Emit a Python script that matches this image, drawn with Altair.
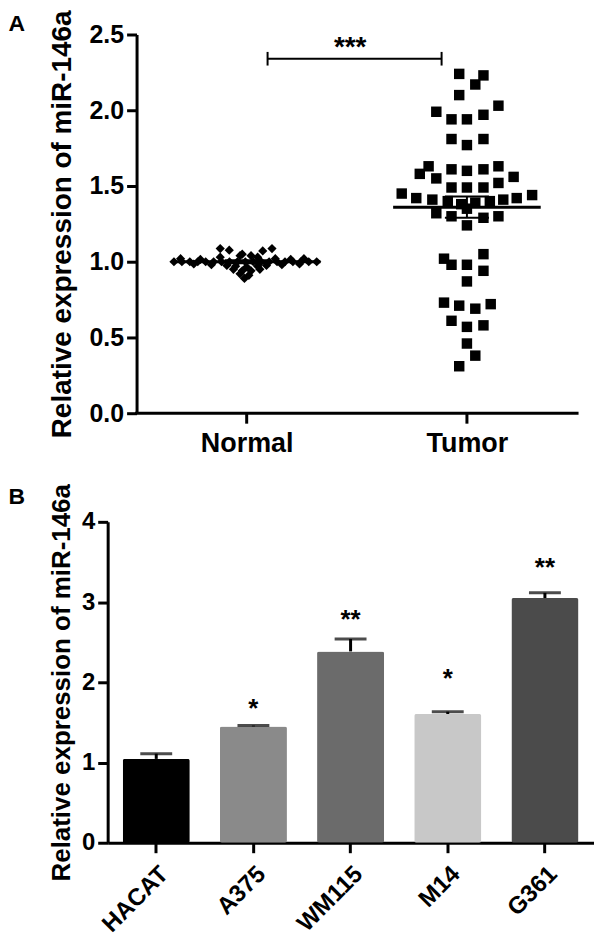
import altair as alt
import pandas as pd

# ---------------- Panel A data ----------------
groups = ["Normal", "Tumor"]

normal_values = [1.00, 1.00, 1.00, 1.00, 1.00, 1.00, 1.00, 1.00, 1.00, 1.00,
                 1.00, 1.00, 1.00, 1.00, 1.00, 1.00, 1.00, 1.00, 1.00,
                 1.02, 1.015, 1.03, 1.04, 1.03, 1.02, 1.015, 1.02,
                 0.985, 0.98, 0.975, 0.97, 0.965, 0.97, 0.975, 0.98, 0.985,
                 0.95, 0.94, 0.94, 0.95, 0.92, 0.91, 0.89,
                 1.087, 1.076, 1.071, 1.087, 1.05, 1.04]
normal_offsets = [-0.33, -0.294, -0.258, -0.222, -0.186, -0.15, -0.114, -0.078, -0.042, -0.006,
                  0.03, 0.066, 0.102, 0.138, 0.174, 0.21, 0.246, 0.282, 0.318,
                  -0.30, -0.21, -0.12, -0.03, 0.05, 0.13, 0.20, 0.26,
                  -0.24, -0.16, -0.09, -0.05, 0.0, 0.05, 0.09, 0.16, 0.24,
                  -0.06, -0.02, 0.02, 0.06, -0.03, 0.01, -0.01,
                  -0.12, -0.079, 0.073, 0.115, -0.02, 0.02]

tumor_values = [2.24, 2.23, 2.17, 2.10, 2.03, 1.99, 1.97, 1.94, 1.94, 1.81,
                1.81, 1.77, 1.63, 1.63, 1.61, 1.60, 1.61, 1.58, 1.55, 1.56,
                1.52, 1.49, 1.49, 1.49, 1.45, 1.44, 1.42, 1.42, 1.41, 1.40,
                1.38, 1.39, 1.40, 1.41, 1.32, 1.30, 1.35, 1.29, 1.30, 1.24,
                1.05, 1.02, 0.98, 0.98, 0.94, 0.87, 0.73, 0.71, 0.69, 0.72,
                0.61, 0.57, 0.58, 0.46, 0.38, 0.31]
tumor_offsets = [-0.035, 0.075, 0.038, -0.035, 0.143, -0.139, 0.075, -0.070, 0.0, -0.070,
                 0.075, 0.0, -0.174, 0.143, -0.070, 0.0, 0.075, -0.214, -0.139, 0.212,
                 0.143, -0.070, 0.0, 0.075, -0.296, 0.296, -0.230, 0.226, -0.157, -0.087,
                 -0.026, 0.038, 0.104, 0.165, -0.139, -0.070, 0.0, 0.075, 0.143, 0.0,
                 0.075, -0.104, -0.070, 0.0, 0.075, 0.0, -0.104, -0.035, 0.038, 0.108,
                 -0.070, 0.0, 0.075, 0.0, 0.038, -0.035]

group_means = [1.00, 1.36]
group_sems = [0.01, 0.07]
mean_half_width = 0.335
sem_half_width = 0.10

sig_a = "***"
bracket_level = 2.34
bracket_ends = [0.095, 0.885]
bracket_tick_half = 0.045
sig_a_baseline = 2.36

x_range_a = [-0.5, 1.5]          # extent of the drawn x axis line
x_domain_a = [-0.631, 1.5]       # scale domain (plot shares its left edge with panel B)
y_domain_a = [0, 2.5]
y_ticks_a = [0, 0.5, 1.0, 1.5, 2.0, 2.5]

# ---------------- Panel B data ----------------
cells = ["HACAT", "A375", "WM115", "M14", "G361"]
cell_means = [1.045, 1.45, 2.385, 1.605, 3.05]
cell_upper = [1.11, 1.46, 2.54, 1.634, 3.115]
cell_colors = ["#000000", "#8a8a8a", "#6b6b6b", "#c8c8c8", "#4b4b4b"]
cell_stars = ["", "*", "**", "*", "**"]
cell_star_baseline = [0.0, 1.57, 2.68, 1.94, 3.32]
y_ticks_b = [0, 1, 2, 3, 4]

FONT = "Liberation Sans"
YTITLE = "Relative expression of miR-146a"

# ---------------- Panel A ----------------
df_n = pd.DataFrame({"x": [0 + o for o in normal_offsets], "value": normal_values})
df_t = pd.DataFrame({"x": [1 + o for o in tumor_offsets], "value": tumor_values})

xscale_a = alt.Scale(domain=x_domain_a, nice=False, zero=False)
yscale_a = alt.Scale(domain=y_domain_a, nice=False)

label_expr_a = f"datum.value == 0 ? '{groups[0]}' : '{groups[1]}'"
xaxis_a = alt.Axis(values=[0, 1], labelExpr=label_expr_a, title=None, domain=False,
                   labelFontSize=27, labelPadding=7, tickSize=10)
yaxis_a = alt.Axis(values=y_ticks_a, format=".1f", offset=-29,
                   title=YTITLE, labelFontSize=25, labelPadding=3, tickSize=10,
                   titleFontSize=28, titleX=-66, titleY=190,
                   titleBaseline="alphabetic", titleAngle=270)


def xa(f):
    return alt.X(f, scale=xscale_a, axis=xaxis_a, title=None)


def ya(f):
    return alt.Y(f, scale=yscale_a, axis=yaxis_a, title=YTITLE)


normal_pts = alt.Chart(df_n).mark_point(
    shape="diamond", filled=True, size=85, color="black", opacity=1
).encode(x=xa("x:Q"), y=ya("value:Q"))

tumor_pts = alt.Chart(df_t).mark_square(size=110, color="black", opacity=1).encode(
    x=xa("x:Q"), y=ya("value:Q")
)

df_base = pd.DataFrame({"x1": [x_range_a[0]], "x2": [x_range_a[1]], "y": [y_domain_a[0]]})
base_line = alt.Chart(df_base).mark_rule(color="black", strokeWidth=3, strokeCap="square").encode(
    x=xa("x1:Q"), x2="x2:Q", y=ya("y:Q")
)

df_mean = pd.DataFrame({
    "x1": [i - mean_half_width for i in range(len(groups))],
    "x2": [i + mean_half_width for i in range(len(groups))],
    "m": group_means,
})
mean_rule = alt.Chart(df_mean).mark_rule(color="black", strokeWidth=3).encode(
    x=xa("x1:Q"), x2="x2:Q", y=ya("m:Q")
)

df_sem = pd.DataFrame({
    "x": list(range(len(groups))),
    "x1": [i - sem_half_width for i in range(len(groups))],
    "x2": [i + sem_half_width for i in range(len(groups))],
    "lo": [m - s for m, s in zip(group_means, group_sems)],
    "hi": [m + s for m, s in zip(group_means, group_sems)],
})
sem_v = alt.Chart(df_sem).mark_rule(color="black", strokeWidth=2).encode(
    x=xa("x:Q"), y=ya("lo:Q"), y2="hi:Q"
)
sem_lo = alt.Chart(df_sem).mark_rule(color="black", strokeWidth=2).encode(
    x=xa("x1:Q"), x2="x2:Q", y=ya("lo:Q")
)
sem_hi = alt.Chart(df_sem).mark_rule(color="black", strokeWidth=2).encode(
    x=xa("x1:Q"), x2="x2:Q", y=ya("hi:Q")
)

df_br = pd.DataFrame({"x1": [bracket_ends[0]], "x2": [bracket_ends[1]], "y": [bracket_level]})
bracket_h = alt.Chart(df_br).mark_rule(color="black", strokeWidth=2).encode(
    x=xa("x1:Q"), x2="x2:Q", y=ya("y:Q")
)
df_bt = pd.DataFrame({
    "x": bracket_ends,
    "y1": [bracket_level - bracket_tick_half] * 2,
    "y2": [bracket_level + bracket_tick_half] * 2,
})
bracket_t = alt.Chart(df_bt).mark_rule(color="black", strokeWidth=2).encode(
    x=xa("x:Q"), y=ya("y1:Q"), y2="y2:Q"
)
df_sa = pd.DataFrame({"x": [(bracket_ends[0] + bracket_ends[1]) / 2 - 0.02],
                      "y": [sig_a_baseline], "t": [sig_a]})
sig_text_a = alt.Chart(df_sa).mark_text(
    font=FONT, fontSize=28, fontWeight="bold", baseline="alphabetic", color="black"
).encode(x=xa("x:Q"), y=ya("y:Q"), text="t:N")

panel_a = alt.layer(
    normal_pts, tumor_pts, base_line, mean_rule, sem_v, sem_lo, sem_hi,
    bracket_h, bracket_t, sig_text_a
).properties(
    width=471, height=380,
    title=alt.TitleParams("A", anchor="start", frame="group", dx=-99.5, dy=30,
                          fontSize=23, font=FONT, fontWeight="bold", color="black"),
)

# ---------------- Panel B ----------------
df_b = pd.DataFrame({
    "cell": cells, "mean": cell_means, "upper": cell_upper,
    "color": cell_colors, "star": cell_stars, "star_y": cell_star_baseline,
})

xscale_b = alt.Scale(domain=cells, paddingInner=0.31, paddingOuter=0.155)
yscale_b = alt.Scale(domain=[0, 4], nice=False)
xaxis_b = alt.Axis(title=None, labelAngle=-45, labelFontSize=24,
                   labelPadding=9, tickSize=10)
yaxis_b = alt.Axis(values=y_ticks_b, format="d",
                   title=YTITLE, labelFontSize=24, labelPadding=3, tickSize=10,
                   titleFontSize=26, titleX=-38, titleY=161,
                   titleBaseline="alphabetic", titleAngle=270)


def xb(f):
    return alt.X(f, scale=xscale_b, sort=cells, axis=xaxis_b, title=None)


def yb(f):
    return alt.Y(f, scale=yscale_b, axis=yaxis_b, title=YTITLE)


bars = alt.Chart(df_b).mark_bar(cornerRadius=2).encode(
    x=xb("cell:N"), y=yb("mean:Q"), color=alt.Color("color:N", scale=None),
)
err_v = alt.Chart(df_b).mark_rule(color="black", strokeWidth=3).encode(
    x=xb("cell:N"), y=yb("mean:Q"), y2="upper:Q"
)
err_cap = alt.Chart(df_b).mark_tick(color="black", thickness=3, size=32, orient="horizontal").encode(
    x=xb("cell:N"), y=yb("upper:Q")
)
stars_b = alt.Chart(df_b).transform_filter("datum.star != ''").mark_text(
    font=FONT, fontSize=26, fontWeight="bold", baseline="alphabetic", color="black"
).encode(x=xb("cell:N"), y=yb("star_y:Q"), text="star:N")

panel_b = alt.layer(bars, err_v, err_cap, stars_b).properties(
    width=487.5, height=322,
    title=alt.TitleParams("B", anchor="start", frame="group", dx=-99.5, dy=30,
                          fontSize=23, font=FONT, fontWeight="bold", color="black"),
)

chart = alt.vconcat(panel_a, panel_b, spacing=27).properties(
    padding=0, background="white"
).configure_axis(
    domainColor="black", domainWidth=3, tickColor="black", tickWidth=3,
    labelColor="black", labelFont=FONT, labelFontWeight="bold",
    titleColor="black", titleFont=FONT, titleFontWeight="bold", grid=False,
).configure_view(stroke=None)

chart.save("out.html", embed_options={"renderer": "svg", "actions": False})
